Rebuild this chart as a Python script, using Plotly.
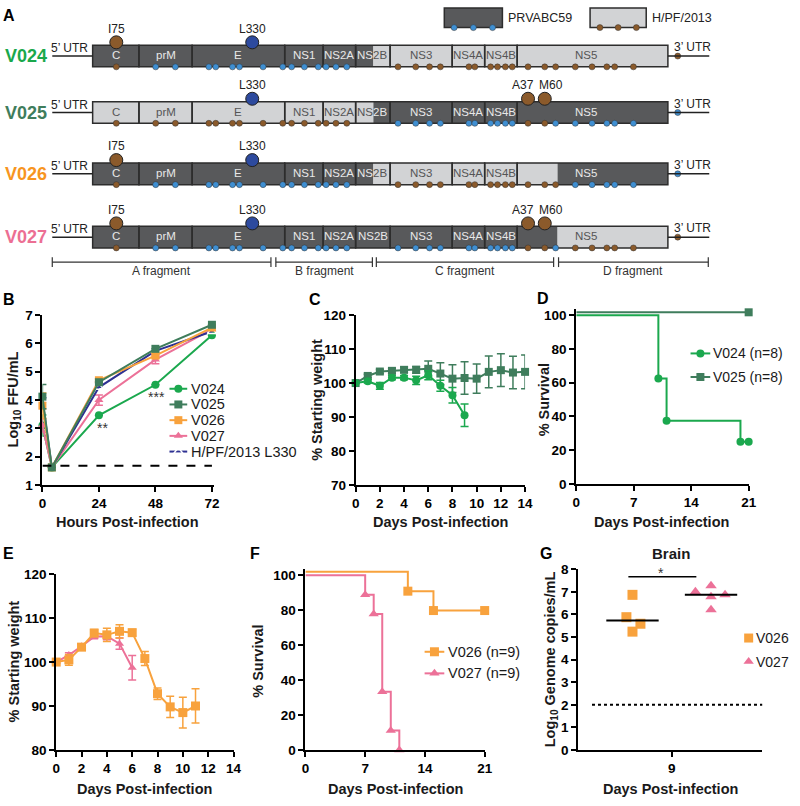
import numpy as np
import plotly.graph_objects as go

W, H = 800, 806
FONT = "Liberation Sans, Arial, Helvetica, sans-serif"

# ---------------- colours ----------------
C_V024 = "#1ba84e"
C_V025 = "#3f7d5c"
C_V026 = "#f8a23d"
C_V027 = "#ec7198"
C_HPF = "#2e3192"
DARK = "#58595b"
LIGHT = "#d2d3d5"
EDGE = "#2d2d2d"
BLUE_DOT = "#3f8fd2"
BROWN = "#8b5a2b"
NAVY_BIG = "#2d4a9e"
ROW_COL = {"V024": "#1aa84b", "V025": "#3f7d5c", "V026": "#f7951f", "V027": "#ec6f93"}

# ---------------- Panel A data ----------------
genes = ["C", "prM", "E", "NS1", "NS2A", "NS2B", "NS3", "NS4A", "NS4B", "NS5"]
gene_edges = [90, 137, 191, 285, 324, 357, 392, 455, 488, 521, 674]
constructs = ["V024", "V025", "V026", "V027"]
construct_segments = {
    "V024": [(90, 375, "P"), (375, 674, "H")],
    "V025": [(90, 375, "H"), (375, 674, "P")],
    "V026": [(90, 375, "P"), (375, 562, "H"), (562, 674, "P")],
    "V027": [(90, 562, "P"), (562, 674, "H")],
}
variant_sites = [114, 154, 174, 208, 215, 232, 239, 263, 283, 292, 305, 319, 327, 337, 348,
                 400, 418, 432, 443, 472, 478, 494, 501, 509, 516,
                 532, 549, 560, 580, 597, 612, 620, 639]
hpf_fixed_sites = [114, 532, 549]
utr3_site = 684
key_residues = {"I75": 114, "L330": 252, "A37": 532, "M60": 549}
key_residue_origin = {"I75": "H", "L330": "L", "A37": "H", "M60": "H"}
construct_residues = {
    "V024": ["I75", "L330"],
    "V025": ["L330", "A37", "M60"],
    "V026": ["I75", "L330"],
    "V027": ["I75", "L330", "A37", "M60"],
}
fragments = ["A fragment", "B fragment", "C fragment", "D fragment"]
fragment_bounds = [(49, 271), (276, 374), (378, 558), (563, 715)]

# ---------------- Panel B data ----------------
hours = [0, 4, 24, 48, 72]
b_names = ["V024", "V025", "V026", "V027", "H/PF/2013 L330"]
b_V024 = [3.10, 1.62, 3.46, 4.54, 6.29]
b_V024_err = [0.37, 0, 0, 0, 0]
b_V025 = [4.12, 1.62, 4.63, 5.81, 6.66]
b_V025_err = [0.43, 0, 0, 0, 0]
b_V026 = [3.80, 1.62, 4.70, 5.57, 6.56]
b_V026_err = [0.45, 0, 0.05, 0.08, 0]
b_V027 = [3.10, 1.62, 4.00, 5.43, 6.50]
b_V027_err = [0.24, 0, 0.18, 0.15, 0]
b_HPF = [4.00, 1.62, 4.45, 5.74, 6.42]
b_HPF_err = [0.08, 0, 0, 0, 0]
b_lod = 1.68

# ---------------- Panel C data ----------------
c_days_V024 = list(range(0, 10))
c_V024 = [100, 100.5, 99.2, 101.6, 101.6, 100.8, 102.3, 99.2, 96.4, 90.5]
c_V024_err = [0, 0.5, 1.0, 0.6, 0.6, 1.2, 1.3, 1.6, 2.3, 3.3]
c_days_V025 = list(range(0, 15))
c_V025 = [100, 102.1, 103.4, 103.6, 103.9, 103.9, 104.2, 102.8, 101.3, 101.5, 101.3, 103.3, 103.8, 103.1, 103.3]
c_V025_err = [0, 0.5, 0.6, 0.8, 0.8, 1.0, 2.3, 3.2, 4.1, 4.8, 4.3, 4.7, 4.8, 4.8, 5.0]

# ---------------- Panel D data ----------------
d_t_V024 = [0, 10, 11, 20, 21]
d_s_V024 = [100, 62.5, 37.5, 25, 25]
d_t_V025 = [0, 21]
d_s_V025 = [100, 100]
d_names = ["V024 (n=8)", "V025 (n=8)"]

# ---------------- Panel E data ----------------
e_days_V026 = list(range(0, 12))
e_V026 = [100, 100.5, 103.4, 106.6, 106.2, 107.0, 106.7, 100.8, 92.8, 89.8, 88.5, 90.0]
e_V026_err = [0, 1.2, 0.6, 0.8, 1.5, 1.5, 0.7, 1.6, 1.3, 2.4, 3.5, 3.9]
e_days_V027 = list(range(0, 7))
e_V027 = [100, 101.6, 103.6, 105.8, 105.9, 104.2, 98.7]
e_V027_err = [0, 0.5, 0.5, 0.5, 0.8, 1.3, 2.8]

# ---------------- Panel F data ----------------
f_t_V026 = [0, 12, 15, 21]
f_s_V026 = [100, 88.9, 77.8, 77.8]
f_t_V027 = [0, 7, 8, 9, 10, 11]
f_s_V027 = [100, 88.9, 77.8, 33.3, 11.1, 0]
f_names = ["V026 (n=9)", "V027 (n=9)"]

# ---------------- Panel G data ----------------
g_V026 = [5.88, 6.87, 5.59, 5.24]
g_V027 = [7.01, 7.27, 6.79, 6.87, 6.21]
g_lod = 2.0
g_day_label = "9"

# ======================= figure =======================
fig = go.Figure()


def px_x(a, b):
    return [a / W, b / W]


def px_y(top, bottom):
    return [1 - bottom / H, 1 - top / H]


tickfont = dict(family=FONT, size=13.5, color="black", weight="bold")
ax = dict(showline=True, linecolor="black", linewidth=2, ticks="outside", ticklen=5,
          tickwidth=2, tickcolor="black", showgrid=False, zeroline=False,
          tickfont=tickfont, fixedrange=True)

layout_axes = dict(
    xaxis=dict(ax, domain=px_x(39, 213), range=[0, 72.8], tickvals=[0, 24, 48, 72], anchor="y"),
    yaxis=dict(ax, domain=px_y(314, 487), range=[1, 7], dtick=1, anchor="x"),
    xaxis2=dict(ax, domain=px_x(357, 529), range=[0, 14], dtick=2, anchor="y2"),
    yaxis2=dict(ax, domain=px_y(314, 487), range=[70, 120], dtick=10, anchor="x2"),
    xaxis3=dict(ax, domain=px_x(581, 756), range=[0, 21], tickvals=[0, 7, 14, 21], anchor="y3"),
    yaxis3=dict(ax, domain=px_y(308, 486), range=[0, 103.5], tickvals=[0, 20, 40, 60, 80, 100], anchor="x3"),
    xaxis4=dict(ax, domain=px_x(53, 233), range=[0, 14], dtick=2, anchor="y4"),
    yaxis4=dict(ax, domain=px_y(578, 757), range=[80, 120], dtick=10, anchor="x4"),
    xaxis5=dict(ax, domain=px_x(306, 488), range=[0, 21], tickvals=[0, 7, 14, 21], anchor="y5"),
    yaxis5=dict(ax, domain=px_y(573, 757), range=[0, 103.4], tickvals=[0, 20, 40, 60, 80, 100], anchor="x5"),
    xaxis6=dict(ax, domain=px_x(583, 770), range=[-1, 0.97], tickvals=[0], ticktext=[g_day_label], anchor="y6"),
    yaxis6=dict(ax, domain=px_y(573, 757), range=[0, 8], dtick=1, anchor="x6"),
    xaxis7=dict(domain=[0, 1], range=[0, W], visible=False, fixedrange=True, anchor="y7"),
    yaxis7=dict(domain=[0, 1], range=[H, 0], visible=False, fixedrange=True, anchor="x7"),
)

shapes = []
annotations = []


def text(x, y, s, size=12, color="#222", bold=False, xanchor="center", yanchor="middle",
         angle=0, xref="x7", yref="y7"):
    annotations.append(dict(x=x, y=y, xref=xref, yref=yref, text=s, showarrow=False,
                            xanchor=xanchor, yanchor=yanchor, textangle=angle, borderpad=0,
                            font=dict(family=FONT, size=size, color=color,
                                      weight="bold" if bold else "normal")))


def series(xa, ya, xs, ys, err, color, symbol, size=8, name="", open_marker=False, lw=2):
    fig.add_trace(go.Scatter(
        x=xs, y=ys, xaxis=xa, yaxis=ya, mode="lines+markers", name=name, cliponaxis=False,
        line=dict(color=color, width=lw),
        marker=dict(symbol=symbol, size=size, color="white" if open_marker else color,
                    line=dict(color=color, width=1.5 if open_marker else 0)),
        error_y=dict(type="data", array=err, visible=err is not None, color=color,
                     thickness=1.5, width=4),
        showlegend=False))


# ---------------- Panel A drawing ----------------
row_center = {"V024": 50, "V025": 107.5, "V026": 170, "V027": 234.5}
BOX_HALF = 11
GENE_FS = 11.5


def backbone_at(c, x):
    for a, b, s in construct_segments[c]:
        if a <= x <= b:
            return s
    return construct_segments[c][-1][2]


for c in constructs:
    yc = row_center[c]
    y0, y1 = yc - BOX_HALF, yc + BOX_HALF
    shapes.append(dict(type="line", xref="x7", yref="y7", x0=49, x1=gene_edges[0], y0=yc, y1=yc,
                       line=dict(color="#222", width=1.5)))
    shapes.append(dict(type="line", xref="x7", yref="y7", x0=gene_edges[-1], x1=716, y0=yc, y1=yc,
                       line=dict(color="#222", width=1.5)))
    text(66, yc - 8, "5’ UTR", size=12)
    text(699, yc - 9, "3’ UTR", size=12)
    for a, b, s in construct_segments[c]:
        shapes.append(dict(type="rect", xref="x7", yref="y7", x0=a, x1=b, y0=y0, y1=y1,
                           fillcolor=DARK if s == "P" else LIGHT, line=dict(width=0), layer="below"))
    for i, g in enumerate(genes):
        e0, e1 = gene_edges[i], gene_edges[i + 1]
        shapes.append(dict(type="rect", xref="x7", yref="y7", x0=e0, x1=e1, y0=y0, y1=y1,
                           line=dict(color=EDGE, width=1.5), fillcolor="rgba(0,0,0,0)", layer="below"))
        cx = (e0 + e1) / 2 if g != "NS5" else 591
        left_bb, right_bb = backbone_at(c, e0 + 1), backbone_at(c, e1 - 1)
        if g == "NS2B" and left_bb != right_bb:
            text(376, yc - 1, "NS", size=GENE_FS, color="#e8e8e8" if left_bb == "P" else "#555", xanchor="right")
            text(374, yc - 1, "2B", size=GENE_FS, color="#e8e8e8" if right_bb == "P" else "#555", xanchor="left")
        else:
            bb = backbone_at(c, cx)
            text(cx, yc - 1, g, size=GENE_FS, color="#e8e8e8" if bb == "P" else "#555")
    cols = []
    for s in variant_sites:
        if s in hpf_fixed_sites:
            cols.append(BROWN)
        else:
            cols.append(BLUE_DOT if backbone_at(c, s) == "P" else BROWN)
    fig.add_trace(go.Scatter(x=variant_sites, y=[y1] * len(variant_sites), xaxis="x7", yaxis="y7",
                             mode="markers", showlegend=False, cliponaxis=False,
                             marker=dict(size=6, color=cols, line=dict(color="#333", width=0.5))))
    last_bb = construct_segments[c][-1][2]
    fig.add_trace(go.Scatter(x=[utr3_site], y=[yc], xaxis="x7", yaxis="y7", mode="markers",
                             showlegend=False, cliponaxis=False,
                             marker=dict(size=6, color=BLUE_DOT if last_bb == "P" else BROWN,
                                         line=dict(color="#333", width=0.5))))
    res = construct_residues[c]
    rx = [key_residues[r] for r in res]
    rc = [NAVY_BIG if key_residue_origin[r] == "L" else BROWN for r in res]
    fig.add_trace(go.Scatter(x=rx, y=[y0 - 3] * len(rx), xaxis="x7", yaxis="y7", mode="markers",
                             showlegend=False, cliponaxis=False,
                             marker=dict(size=13, color=rc, line=dict(color="#222", width=1))))
    label_shift = {"I75": 0, "L330": 0, "A37": -5, "M60": 6}
    for r in res:
        text(key_residues[r] + label_shift[r], y0 - 17, r, size=12)
    text(0, yc, c, size=18, bold=True, color=ROW_COL[c], xanchor="left")

for (bx0, bx1, fill, dcol, lab) in [(447, 506, DARK, BLUE_DOT, "PRVABC59"), (595, 652, LIGHT, BROWN, "H/PF/2013")]:
    shapes.append(dict(type="rect", xref="x7", yref="y7", x0=bx0, x1=bx1, y0=1, y1=21,
                       fillcolor=fill, line=dict(color=EDGE, width=1.5), layer="below"))
    xs = list(np.linspace(bx0 + 10, bx1 - 10, 3))
    fig.add_trace(go.Scatter(x=xs, y=[21] * 3, xaxis="x7", yaxis="y7", mode="markers",
                             showlegend=False, cliponaxis=False,
                             marker=dict(size=6, color=dcol, line=dict(color="#333", width=0.5))))
    text(bx1 + 5, 11, lab, size=12.5, xanchor="left")

for name, (a, b) in zip(fragments, fragment_bounds):
    yf = 260
    shapes.append(dict(type="line", xref="x7", yref="y7", x0=a, x1=b, y0=yf, y1=yf,
                       line=dict(color="#333", width=1.2)))
    for xe in (a, b):
        shapes.append(dict(type="line", xref="x7", yref="y7", x0=xe, x1=xe, y0=yf - 5, y1=yf + 5,
                           line=dict(color="#333", width=1.2)))
    text((a + b) / 2, 269, name, size=12, color="#333")

# ---------------- Panel B ----------------
series("x", "y", hours, b_V024, b_V024_err, C_V024, "circle", 8)
series("x", "y", hours, b_V027, b_V027_err, C_V027, "triangle-up", 8)
series("x", "y", hours, b_HPF, b_HPF_err, C_HPF, "triangle-up-open", 8, open_marker=True)
series("x", "y", hours, b_V026, b_V026_err, C_V026, "square", 8)
series("x", "y", hours, b_V025, b_V025_err, C_V025, "square", 8)
fig.add_trace(go.Scatter(x=[0, 72], y=[b_lod, b_lod], xaxis="x", yaxis="y", mode="lines",
                         line=dict(color="black", width=2, dash="dash"), showlegend=False))
text(25.5, 3.0, "**", size=14, color="#333", xref="x", yref="y")
text(48.6, 4.12, "***", size=14, color="#333", xref="x", yref="y")

# ---------------- Panel C ----------------
series("x2", "y2", c_days_V025, c_V025, c_V025_err, C_V025, "square", 8)
series("x2", "y2", c_days_V024, c_V024, c_V024_err, C_V024, "circle", 8)

# ---------------- Panel D ----------------
KM_OFFSET_D = 1.7
d_V025_plot = [v + KM_OFFSET_D for v in d_s_V025]
for t, s, col, sym in [(d_t_V025, d_V025_plot, C_V025, "square"), (d_t_V024, d_s_V024, C_V024, "circle")]:
    fig.add_trace(go.Scatter(x=t, y=s, xaxis="x3", yaxis="y3", mode="lines", line_shape="hv",
                             line=dict(color=col, width=2), showlegend=False, cliponaxis=False))
    fig.add_trace(go.Scatter(x=t[1:], y=s[1:], xaxis="x3", yaxis="y3", mode="markers",
                             marker=dict(symbol=sym, size=8, color=col), showlegend=False, cliponaxis=False))

# ---------------- Panel E ----------------
series("x4", "y4", e_days_V027, e_V027, e_V027_err, C_V027, "triangle-up", 8)
series("x4", "y4", e_days_V026, e_V026, e_V026_err, C_V026, "square", 9)

# ---------------- Panel F ----------------
KM_OFFSET_F = 2.0
f_V026_plot = [v + KM_OFFSET_F for v in f_s_V026]
for t, s, col, sym in [(f_t_V026, f_V026_plot, C_V026, "square"), (f_t_V027, f_s_V027, C_V027, "triangle-up")]:
    fig.add_trace(go.Scatter(x=t, y=s, xaxis="x5", yaxis="y5", mode="lines", line_shape="hv",
                             line=dict(color=col, width=2), showlegend=False, cliponaxis=False))
    fig.add_trace(go.Scatter(x=t[1:], y=s[1:], xaxis="x5", yaxis="y5", mode="markers",
                             marker=dict(symbol=sym, size=9, color=col), showlegend=False, cliponaxis=False))

# ---------------- Panel G ----------------
G_CENTER = {"V026": -0.42, "V027": 0.42}
G_JITTER = {"V026": [-0.065, 0, 0.085, 0], "V027": [-0.167, 0, 0, 0.15, 0]}
for name, vals, col, sym in [("V026", g_V026, C_V026, "square"), ("V027", g_V027, C_V027, "triangle-up")]:
    xs = [G_CENTER[name] + j for j in G_JITTER[name]]
    fig.add_trace(go.Scatter(x=xs, y=vals, xaxis="x6", yaxis="y6", mode="markers",
                             marker=dict(symbol=sym, size=10, color=col), showlegend=False, cliponaxis=False))
    med = float(np.median(vals))
    fig.add_trace(go.Scatter(x=[G_CENTER[name] - 0.28, G_CENTER[name] + 0.28], y=[med, med],
                             xaxis="x6", yaxis="y6", mode="lines", line=dict(color="black", width=2),
                             showlegend=False))
fig.add_trace(go.Scatter(x=[-0.853, 0.97], y=[g_lod, g_lod], xaxis="x6", yaxis="y6", mode="lines",
                         line=dict(color="black", width=2, dash="dot"), showlegend=False))
fig.add_trace(go.Scatter(x=[-0.464, 0.263], y=[7.67, 7.67], xaxis="x6", yaxis="y6", mode="lines",
                         line=dict(color="black", width=1.5), showlegend=False, cliponaxis=False))
text(-0.11, 7.83, "*", size=14, color="#333", xref="x6", yref="y6")
text(677, 557, "Brain", size=15, bold=True, color="#1a1a1a")


# ---------------- legends (drawn manually) ----------------
def legend_entry(x0, x1, y, color, symbol, label, msize=8, line=True, open_marker=False, tx=None, fs=14.5):
    if line:
        fig.add_trace(go.Scatter(x=[x0, x1], y=[y, y], xaxis="x7", yaxis="y7", mode="lines",
                                 line=dict(color=color, width=2), showlegend=False))
    fig.add_trace(go.Scatter(x=[(x0 + x1) / 2], y=[y], xaxis="x7", yaxis="y7", mode="markers",
                             marker=dict(symbol=symbol, size=msize, color="white" if open_marker else color,
                                         line=dict(color=color, width=1.5 if open_marker else 0)),
                             showlegend=False))
    text(tx if tx is not None else x1 + 3, y, label, size=fs, color="#1a1a1a", xanchor="left")


b_leg = [(C_V024, "circle", False), (C_V025, "square", False), (C_V026, "square", False),
         (C_V027, "triangle-up", False), (C_HPF, "triangle-up-open", True)]
for i, (nm, (col, sym, op)) in enumerate(zip(b_names, b_leg)):
    legend_entry(168, 186, 389 + 16 * i, col, sym, nm, msize=8, open_marker=op)

for i, (nm, col, sym) in enumerate(zip(d_names, [C_V024, C_V025], ["circle", "square"])):
    legend_entry(697, 717, 353 + 24 * i, col, sym, nm, fs=14, tx=719)

for i, (nm, col, sym) in enumerate(zip(f_names, [C_V026, C_V027], ["square", "triangle-up"])):
    legend_entry(427, 447, 657 + 22 * i, col, sym, nm, msize=9)

for i, (nm, col, sym) in enumerate(zip(["V026", "V027"], [C_V026, C_V027], ["square", "triangle-up"])):
    legend_entry(752, 760, 643 + 24 * i, col, sym, nm, msize=9, line=False, tx=762, fs=14)

# ---------------- titles ----------------
TS = 14.5
text(10, 400, "Log<sub>10</sub> FFU/mL", size=TS, bold=True, angle=-90, color="#1a1a1a")
text(317, 400, "% Starting weight", size=TS, bold=True, angle=-90, color="#1a1a1a")
text(548, 400, "% Survival", size=TS, bold=True, angle=-90, color="#1a1a1a")
text(10, 667, "% Starting weight", size=TS, bold=True, angle=-90, color="#1a1a1a")
text(257, 667, "% Survival", size=TS, bold=True, angle=-90, color="#1a1a1a")
text(555, 665, "Log<sub>10</sub> Genome copies/mL", size=TS, bold=True, angle=-90, color="#1a1a1a")
text(125, 525, "Hours Post-infection", size=TS, bold=True, color="#1a1a1a")
text(443, 525, "Days Post-infection", size=TS, bold=True, color="#1a1a1a")
text(668, 525, "Days Post-infection", size=TS, bold=True, color="#1a1a1a")
text(143, 797, "Days Post-infection", size=TS, bold=True, color="#1a1a1a")
text(397, 797, "Days Post-infection", size=TS, bold=True, color="#1a1a1a")
text(677, 797, "Days Post-infection", size=TS, bold=True, color="#1a1a1a")

for lab, x, y in [("A", 5, 9), ("B", 5, 298), ("C", 316, 298), ("D", 547, 297),
                  ("E", 5, 557), ("F", 255, 557), ("G", 550, 557)]:
    text(x, y, lab, size=16, bold=True, color="black")

fig.update_layout(
    width=W, height=H, margin=dict(l=0, r=0, t=0, b=0),
    paper_bgcolor="white", plot_bgcolor="rgba(0,0,0,0)",
    font=dict(family=FONT), showlegend=False,
    shapes=shapes, annotations=annotations, **layout_axes)

fig.write_html("out.html", config={"displayModeBar": False, "staticPlot": True},
               post_script="document.body.style.margin='0';document.body.style.overflow='hidden';")
